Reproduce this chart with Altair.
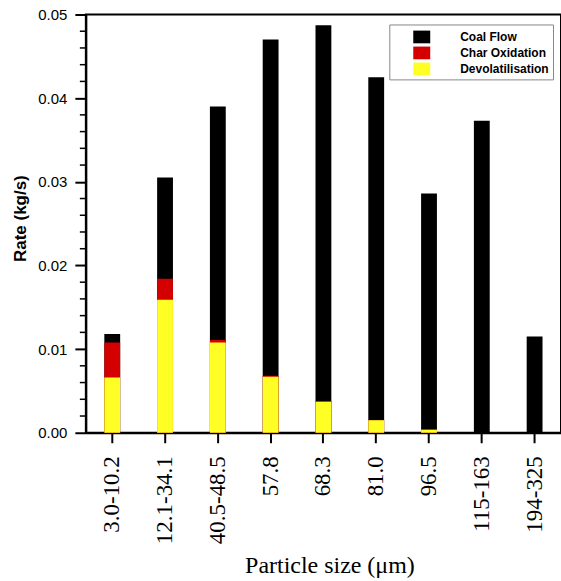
import altair as alt
import pandas as pd

categories = ["3.0-10.2", "12.1-34.1", "40.5-48.5", "57.8", "68.3", "81.0", "96.5", "115-163", "194-325"]
coal_flow = [0.0118, 0.0305, 0.0390, 0.0470, 0.0487, 0.0425, 0.0286, 0.0373, 0.0115]
char_oxidation = [0.0108, 0.0184, 0.0111, 0.0068, 0.0038, 0.0015, 0.0004, 0.0, 0.0]
devolatilisation = [0.0066, 0.0159, 0.0108, 0.0067, 0.0037, 0.0015, 0.00036, 0.0, 0.0]

series_names = ["Coal Flow", "Char Oxidation", "Devolatilisation"]
series_colors = ["#000000", "#d40000", "#ffff26"]

y_major_ticks = [0.0, 0.01, 0.02, 0.03, 0.04, 0.05]
y_minor_ticks = [0.002, 0.004, 0.006, 0.008, 0.012, 0.014, 0.016, 0.018,
                 0.022, 0.024, 0.026, 0.028, 0.032, 0.034, 0.036, 0.038,
                 0.042, 0.044, 0.046, 0.048]

rows = []
for z, (name, vals) in enumerate(zip(series_names, [coal_flow, char_oxidation, devolatilisation])):
    for cat, v in zip(categories, vals):
        rows.append({"size": cat, "series": name, "value": v, "z": z})
df = pd.DataFrame(rows)

y_axis = alt.Axis(
    values=y_major_ticks,
    format=".2f",
    title="Rate (kg/s)",
    titleFont="Liberation Sans",
    titleFontSize=17,
    titleFontWeight="bold",
    titleColor="black",
    titlePadding=8,
    titleY=204,
    labelFont="Liberation Sans",
    labelFontSize=15,
    labelColor="black",
    labelPadding=8,
    tickSize=11,
    tickWidth=2,
    tickColor="black",
    domainColor="black",
    domainWidth=2,
    grid=False,
)
y_scale = alt.Scale(domain=[0, 0.05], nice=False, zero=True)

bars = alt.Chart(df).mark_bar(strokeWidth=0).encode(
    x=alt.X(
        "size:N",
        sort=categories,
        scale=alt.Scale(paddingInner=0.7, paddingOuter=0.35),
        axis=alt.Axis(
            title="Particle size (μm)",
            labelAngle=-90,
            labelFont="Liberation Serif",
            labelFontSize=23,
            labelColor="black",
            labelPadding=13,
            titleFont="Liberation Serif",
            titleFontSize=24,
            titleFontWeight="normal",
            titleColor="black",
            titlePadding=10,
            titleX=244,
            tickSize=10,
            tickWidth=2,
            tickColor="black",
            domainColor="black",
            domainWidth=2,
        ),
    ),
    y=alt.Y("value:Q", stack=None, scale=y_scale, axis=y_axis),
    color=alt.Color(
        "series:N",
        scale=alt.Scale(domain=series_names, range=series_colors),
        legend=alt.Legend(
            title=None,
            orient="none",
            legendX=304,
            legendY=10,
            symbolType="M-1,-0.75H1V0.75H-1Z",
            symbolSize=289,
            symbolStrokeWidth=0,
            symbolOpacity=1,
            labelFont="Liberation Sans",
            labelFontSize=12,
            labelFontWeight="bold",
            labelColor="black",
            padding=4,
            symbolOffset=20,
            labelOffset=30,
            rowPadding=1,
            strokeColor="#888888",
            fillColor="white",
        ),
    ),
    order=alt.Order("z:Q"),
)

minor = alt.Chart(pd.DataFrame({"value": y_minor_ticks})).mark_rule(
    color="black", strokeWidth=1.5, clip=False
).encode(
    y=alt.Y("value:Q", scale=y_scale, axis=y_axis),
    x=alt.value(-6),
    x2=alt.value(0),
)

chart = alt.layer(bars, minor).properties(
    width=476,
    height=419,
    autosize=alt.AutoSizeParams(type="none"),
    padding={"left": 86, "top": 14, "right": 0, "bottom": 148},
    background="white",
).configure_view(stroke="black", strokeWidth=2)

chart.save("out.html", embed_options={"renderer": "svg", "actions": False})
